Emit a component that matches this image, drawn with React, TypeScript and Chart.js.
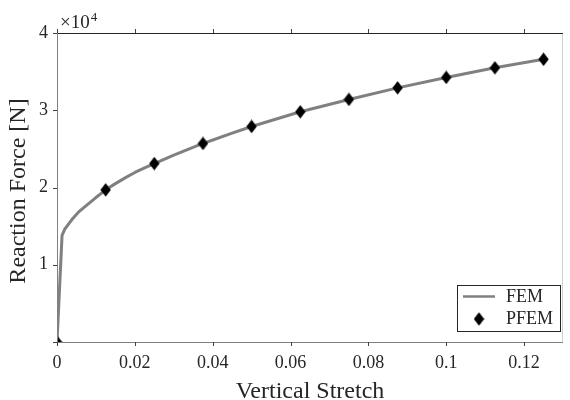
import React, { useEffect, useRef } from "react";
import { Chart, registerables } from "chart.js";

Chart.register(...registerables);

// FEM curve (x: vertical stretch, y: reaction force in N)
const femStretch = [0, 0.0013, 0.002, 0.003, 0.004, 0.0055, 0.0075, 0.01, 0.0125, 0.015, 0.0175, 0.02, 0.0225, 0.025, 0.03, 0.0375, 0.045, 0.05, 0.0625, 0.075, 0.0875, 0.1, 0.1125, 0.125];
const femForce = [0, 13800, 14600, 15300, 15950, 16800, 17650, 18700, 19700, 20500, 21250, 21950, 22550, 23100, 24200, 25700, 27050, 27900, 29800, 31400, 32900, 34250, 35500, 36600];

// PFEM points
const pfemStretch = [0, 0.0125, 0.025, 0.0375, 0.05, 0.0625, 0.075, 0.0875, 0.1, 0.1125, 0.125];
const pfemForce = [0, 19700, 23100, 25700, 27900, 29800, 31400, 32900, 34250, 35500, 36600];

const xTicks = [0, 0.02, 0.04, 0.06, 0.08, 0.1, 0.12];
const yTicks = [0, 10000, 20000, 30000, 40000];

const SERIF = "'Liberation Serif', 'DejaVu Serif', serif";

function makeDiamond(): HTMLCanvasElement {
  const c = document.createElement("canvas");
  c.width = 11;
  c.height = 14;
  const ctx = c.getContext("2d")!;
  ctx.fillStyle = "#000";
  ctx.beginPath();
  ctx.moveTo(5.5, 0.3);
  ctx.lineTo(10.7, 7);
  ctx.lineTo(5.5, 13.7);
  ctx.lineTo(0.3, 7);
  ctx.closePath();
  ctx.fill();
  return c;
}

export default function App() {
  const ref = useRef<HTMLCanvasElement | null>(null);

  useEffect(() => {
    if (!ref.current) return;
    const diamond = makeDiamond();

    const framePlugin = {
      id: "frame",
      afterDraw(chart: any) {
        const { ctx, chartArea } = chart;
        const { left, right, top, bottom } = chartArea;
        const xs = chart.scales.x;
        const ys = chart.scales.y;
        ctx.save();
        // borders
        ctx.lineWidth = 1;
        ctx.strokeStyle = "#d0d0d0";
        ctx.beginPath();
        ctx.moveTo(right - 0.5, top);
        ctx.lineTo(right - 0.5, bottom);
        ctx.stroke();
        ctx.strokeStyle = "#262626";
        ctx.beginPath();
        ctx.moveTo(left, top + 0.5);
        ctx.lineTo(right, top + 0.5);
        ctx.stroke();
        ctx.strokeStyle = "#808080";
        ctx.beginPath();
        ctx.moveTo(left, bottom + 0.5);
        ctx.lineTo(right, bottom + 0.5);
        ctx.moveTo(left + 0.5, top);
        ctx.lineTo(left + 0.5, bottom + 1);
        ctx.stroke();
        // ticks outward
        ctx.strokeStyle = "#404040";
        ctx.beginPath();
        xTicks.forEach((v) => {
          const px = Math.round(xs.getPixelForValue(v)) + 0.5;
          ctx.moveTo(px, bottom);
          ctx.lineTo(px, bottom + 4);
          ctx.moveTo(px, top);
          ctx.lineTo(px, top - 4);
        });
        yTicks.forEach((v) => {
          const py = Math.round(ys.getPixelForValue(v)) + 0.5;
          ctx.moveTo(left, py);
          ctx.lineTo(left - 4, py);
        });
        ctx.stroke();

        // multiplier
        ctx.fillStyle = "#262626";
        ctx.textBaseline = "alphabetic";
        ctx.textAlign = "left";
        ctx.font = `19px ${SERIF}`;
        const base = "\u00d710";
        ctx.fillText(base, 60, 28);
        const w = ctx.measureText(base).width;
        ctx.font = `13px ${SERIF}`;
        ctx.fillText("4", 60 + w + 1, 21);

        // axis titles
        ctx.font = `24px ${SERIF}`;
        ctx.textAlign = "center";
        ctx.textBaseline = "alphabetic";
        ctx.fillText("Vertical Stretch", (left + right) / 2, 398);
        ctx.save();
        ctx.translate(25, 191);
        ctx.rotate(-Math.PI / 2);
        ctx.fillText("Reaction Force [N]", 0, 0);
        ctx.restore();

        // legend
        const bx = 457.5, by = 285.5, bw = 103, bh = 46;
        ctx.fillStyle = "#ffffff";
        ctx.fillRect(bx, by, bw, bh);
        ctx.strokeStyle = "#262626";
        ctx.lineWidth = 1;
        ctx.strokeRect(bx, by, bw, bh);
        ctx.strokeStyle = "#808080";
        ctx.lineWidth = 2.5;
        ctx.beginPath();
        ctx.moveTo(463, 296.5);
        ctx.lineTo(495, 296.5);
        ctx.stroke();
        ctx.drawImage(diamond, 479 - 5.5, 319 - 7);
        ctx.fillStyle = "#262626";
        ctx.font = `18px ${SERIF}`;
        ctx.textAlign = "left";
        ctx.textBaseline = "middle";
        ctx.fillText("FEM", 506, 297);
        ctx.fillText("PFEM", 506, 319);
        ctx.restore();
      },
    };

    const chart = new Chart(ref.current, {
      type: "scatter",
      data: {
        datasets: [
          {
            label: "FEM",
            data: femStretch.map((x, i) => ({ x, y: femForce[i] })),
            showLine: true,
            borderColor: "#808080",
            borderWidth: 3,
            pointRadius: 0,
            tension: 0,
            borderJoinStyle: "round",
            order: 2,
          },
          {
            label: "PFEM",
            data: pfemStretch.map((x, i) => ({ x, y: pfemForce[i] })),
            showLine: false,
            pointStyle: diamond,
            pointRadius: 6,
            backgroundColor: "#000",
            borderColor: "#000",
            order: 1,
          },
        ],
      } as any,
      options: {
        responsive: false,
        animation: false,
        events: [],
        layout: { padding: { top: 33, right: 1, left: 0, bottom: 0 } },
        plugins: {
          legend: { display: false },
          tooltip: { enabled: false },
        },
        scales: {
          x: {
            type: "linear",
            min: 0,
            max: 0.13,
            afterFit: (s: any) => {
              s.height = 58;
            },
            afterBuildTicks: (s: any) => {
              s.ticks = xTicks.map((v) => ({ value: v }));
            },
            grid: { display: false, drawTicks: false },
            border: { display: false },
            ticks: {
              padding: 10,
              color: "#262626",
              font: { family: SERIF, size: 18 },
              maxRotation: 0,
              callback: (v: any) => String(Number(v)),
            },
          },
          y: {
            type: "linear",
            min: 0,
            max: 40000,
            afterFit: (s: any) => {
              s.width = 57;
            },
            afterBuildTicks: (s: any) => {
              s.ticks = yTicks.map((v) => ({ value: v }));
            },
            grid: { display: false, drawTicks: false },
            border: { display: false },
            ticks: {
              padding: 9,
              color: "#262626",
              font: { family: SERIF, size: 18 },
              callback: (v: any) => (Number(v) === 0 ? "" : String(Number(v) / 10000)),
            },
          },
        },
      } as any,
      plugins: [framePlugin],
    });
    return () => chart.destroy();
  }, []);

  return (
    <div style={{ position: "fixed", left: 0, top: 0, width: 570, height: 400, background: "#fff" }}>
      <canvas ref={ref} width={570} height={400} style={{ width: 570, height: 400, display: "block" }} />
    </div>
  );
}
